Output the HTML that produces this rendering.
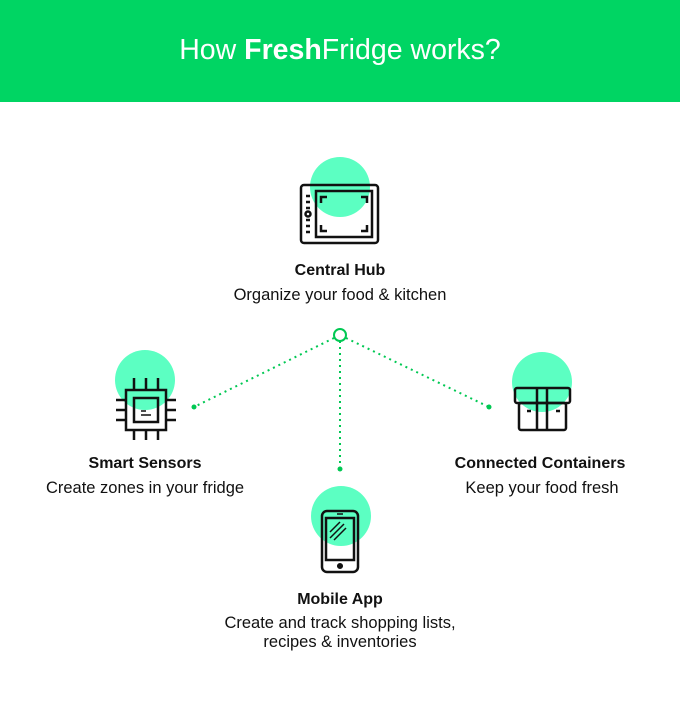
<!DOCTYPE html>
<html><head><style>
body{margin:0;width:680px;height:710px;background:#fff;font-family:"Liberation Sans",sans-serif;position:relative;overflow:hidden}
.hdr{position:absolute;left:0;top:0;width:680px;height:102px;background:#00d563;color:#fff;font-size:28.5px;text-align:center;line-height:100px}
.t{position:absolute;text-align:center;color:#111;font-size:16.5px;width:340px}
.b{font-weight:bold;font-size:16px}
</style></head><body>
<div class="hdr">How <b>Fresh</b>Fridge works?</div>
<svg width="680" height="710" style="position:absolute;left:0;top:0">
<g fill="#5cffc2">
<circle cx="340" cy="187" r="30"/><circle cx="145" cy="380" r="30"/>
<circle cx="542" cy="382" r="30"/><circle cx="341" cy="516" r="30"/>
</g>
<g stroke="#00c853" stroke-width="2" stroke-dasharray="2 4" fill="none">
<line x1="334" y1="338" x2="194" y2="407"/><line x1="340" y1="341" x2="340" y2="468"/><line x1="346" y1="338" x2="489" y2="407"/>
</g>
<g fill="#00c853"><circle cx="194" cy="407" r="2.5"/><circle cx="340" cy="469" r="2.5"/><circle cx="489" cy="407" r="2.5"/></g>
<circle cx="340" cy="335" r="6" fill="#fff" stroke="#00c853" stroke-width="2"/>
<g stroke="#111" stroke-width="2.5" fill="none">
<rect x="301" y="185" width="77" height="58" rx="3"/><rect x="316" y="191" width="56" height="46"/>
<path d="M321 203v-6h6M361 197h6v6M321 225v6h6M361 231h6v-6"/>
<circle cx="308" cy="214" r="2.5"/>
<path d="M306 196h4M306 202h4M306 208h4M306 220h4M306 226h4M306 232h4"/>
<rect x="126" y="390" width="40" height="40"/><rect x="134" y="398" width="24" height="24"/>
<path d="M134 378v12M146 378v12M158 378v12M134 430v10M146 430v10M158 430v10M116 400h10M116 410h10M116 420h10M166 400h10M166 410h10M166 420h10"/>
<path d="M141 411h5M141 415h10" stroke-width="1.5"/>
<rect x="515" y="388" width="55" height="15" rx="2"/><rect x="519" y="403" width="47" height="27" rx="2"/>
<path d="M537 388v42M547 388v42M527 411h4M556 411h4"/>
<rect x="322" y="511" width="36" height="61" rx="5"/><rect x="326" y="518" width="28" height="42"/>
<circle cx="340" cy="566" r="1.8" fill="#111"/><path d="M337 514h6M330 532l10-10M330 538l14-14M334 540l12-12" stroke-width="1.5"/>
</g>
</svg>
<div class="t b" style="left:170px;top:262px">Central Hub</div>
<div class="t" style="left:170px;top:286px">Organize your food &amp; kitchen</div>
<div class="t b" style="left:-25px;top:455px">Smart Sensors</div>
<div class="t" style="left:-25px;top:479px">Create zones in your fridge</div>
<div class="t b" style="left:370px;top:455px">Connected Containers</div>
<div class="t" style="left:372px;top:479px">Keep your food fresh</div>
<div class="t b" style="left:170px;top:591px">Mobile App</div>
<div class="t" style="left:170px;top:614px;line-height:19px">Create and track shopping lists,<br>recipes &amp; inventories</div>
</body></html>
